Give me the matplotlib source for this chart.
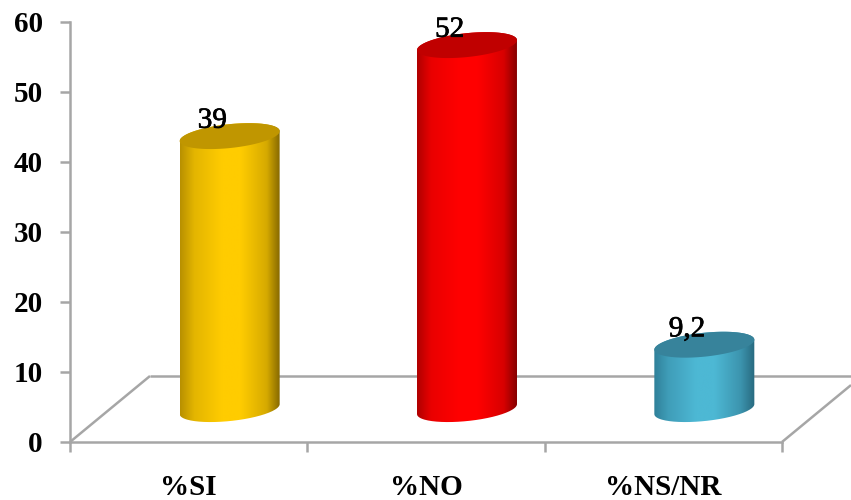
import numpy as np
import matplotlib
matplotlib.use("Agg")
import matplotlib.pyplot as plt
import matplotlib.patheffects as pe
from matplotlib.colors import LinearSegmentedColormap
from matplotlib.patches import Polygon, PathPatch
from matplotlib.path import Path

categories = ["%SI", "%NO", "%NS/NR"]
values = [39, 52, 9.2]
value_labels = ["39", "52", "9,2"]
y_ticks = [0, 10, 20, 30, 40, 50, 60]

# Shading across each cylinder: left edge, shoulder, centre, centre, shoulder, right edge
shade_stops = [0.0, 0.14, 0.42, 0.6, 0.86, 1.0]
body_colors = [
    ["#b89000", "#e3b500", "#ffcc00", "#ffcc00", "#d6aa00", "#806400"],
    ["#b00000", "#ea0000", "#ff0000", "#ff0000", "#d80000", "#800000"],
    ["#2f8099", "#3f9db8", "#4db8d4", "#4db8d4", "#3c94ae", "#286a7f"],
]
top_colors = ["#c09600", "#c00000", "#37839b"]

GRID = "#a6a6a6"
FONT = "Liberation Serif"

fig = plt.figure(figsize=(8.51, 5.0), dpi=100)
ax = fig.add_axes([70 / 851, 1 - 442 / 500, 712 / 851, 420 / 500])
ax.set_xlim(-0.5, 2.5)
ax.set_ylim(0, 60)
ax.set_autoscale_on(False)

# Oblique projection of the chart floor, in data units
depth_x = 80 / 237.33
depth_y = 9.43
offset_x = 41 / 237.33
offset_y = 4.7
half_w = 50 / 237.33
ell_b = 1.71
ell_k = 0.71

# Floor edges
line_kw = dict(color=GRID, lw=1.8, clip_on=False, zorder=1, solid_capstyle="butt")
ax.plot([-0.5, -0.5 + depth_x], [0, depth_y], **line_kw)
ax.plot([-0.5 + depth_x, 2.5 + 69 / 237.33], [depth_y, depth_y], **line_kw)
ax.plot([2.5, 2.5 + 69 / 237.33], [0, 69 / 80 * depth_y], **line_kw)


def ellipse(cx, cy, t):
    return np.column_stack([cx + half_w * np.cos(t),
                            cy + ell_b * np.sin(t) + ell_k * np.cos(t)])


for i, (val, cols, top) in enumerate(zip(values, body_colors, top_colors)):
    cx = i + offset_x
    y0 = offset_y
    y1 = offset_y + val
    lower = ellipse(cx, y0, np.linspace(np.pi, 2 * np.pi, 80))
    upper = ellipse(cx, y1, np.linspace(0, np.pi, 80))
    outline = np.vstack([lower, upper, lower[:1]])

    cmap = LinearSegmentedColormap.from_list(f"cyl{i}", list(zip(shade_stops, cols)))
    shade = np.linspace(0, 1, 256).reshape(1, -1)
    im = ax.imshow(shade, cmap=cmap, aspect="auto", zorder=2, clip_on=True,
                   extent=[cx - half_w, cx + half_w, y0 - 3, y1 + 3],
                   interpolation="bilinear")
    im.set_clip_path(PathPatch(Path(outline), transform=ax.transData))

    ax.add_patch(Polygon(ellipse(cx, y1, np.linspace(0, 2 * np.pi, 160)),
                         closed=True, facecolor=top, edgecolor="none",
                         zorder=3, clip_on=False))

    label = ax.annotate(value_labels[i], xy=(cx, y1), xytext=(-12.5, 6),
                        textcoords="offset points", ha="center", va="baseline",
                        fontsize=21, family=FONT, color="black", zorder=5,
                        annotation_clip=False)
    label.set_path_effects([pe.withStroke(linewidth=0.5, foreground="black")])

ax.set_xlim(-0.5, 2.5)
ax.set_ylim(0, 60)

# Axes
for side in ("top", "right"):
    ax.spines[side].set_visible(False)
for side in ("left", "bottom"):
    ax.spines[side].set_color(GRID)
    ax.spines[side].set_linewidth(1.8)
    ax.spines[side].set_zorder(1)

ax.set_yticks(y_ticks)
ax.set_yticklabels([str(v) for v in y_ticks], fontsize=21, fontweight="bold",
                   family=FONT, color="black")
ax.tick_params(axis="y", length=7.5, width=1.8, color=GRID, pad=12)

ax.set_xticks([-0.5, 0.5, 1.5, 2.5])
ax.set_xticklabels([])
ax.tick_params(axis="x", which="major", length=7.5, width=1.8, color=GRID)
ax.set_xticks([0, 1, 2], minor=True)
ax.set_xticklabels(categories, minor=True, fontsize=21, fontweight="bold",
                   family=FONT, color="black")
ax.tick_params(axis="x", which="minor", length=0, pad=23)

fig.savefig("out.png", dpi=100, facecolor="white")
